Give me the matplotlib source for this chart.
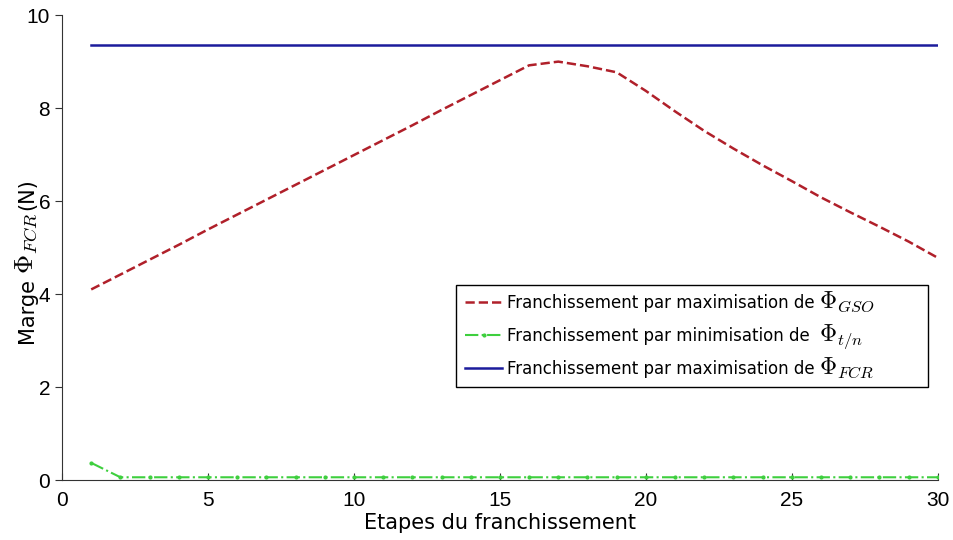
import numpy as np
import matplotlib
matplotlib.use('Agg')
import matplotlib.pyplot as plt
from matplotlib.transforms import IdentityTransform

plt.rcParams['mathtext.fontset'] = 'cm'

# etapes du franchissement
etapes = np.arange(1, 31)

# marge Phi_FCR pour chaque strategie
marge_gso = [4.10, 4.42, 4.74, 5.06, 5.39, 5.71, 6.03, 6.35, 6.67, 6.99,
             7.31, 7.63, 7.96, 8.28, 8.60, 8.92, 9.00, 8.90, 8.77, 8.37,
             7.93, 7.51, 7.13, 6.77, 6.43, 6.08, 5.76, 5.45, 5.13, 4.78]
marge_tn = [0.37] + [0.06] * 29
marge_fcr = [9.35] * 30

labels = ['Franchissement par maximisation de',
          'Franchissement par minimisation de ',
          'Franchissement par maximisation de']
symboles = [r'$\Phi_{GSO}$', r'$\Phi_{t/n}$', r'$\Phi_{FCR}$']

fig = plt.figure(figsize=(9.54, 5.4), dpi=100)
ax = fig.add_axes([0.065, 0.111, 0.918, 0.861])

ax.plot(etapes, marge_gso, '--', color='#b0202a', lw=1.8, label=labels[0])
ax.plot(etapes, marge_tn, '-.', color='#3ecf3e', lw=1.5, marker='.', ms=4,
        label=labels[1])
ax.plot(etapes, marge_fcr, '-', color='#1c1c9c', lw=1.8, label=labels[2])

ax.set_xlim(0, 30)
ax.set_ylim(0, 10)
ax.set_xticks([0, 5, 10, 15, 20, 25, 30])
ax.set_yticks([0, 2, 4, 6, 8, 10])
for s in ['top', 'right']:
    ax.spines[s].set_visible(False)
for s in ['left', 'bottom']:
    ax.spines[s].set_color('#333333')
ax.tick_params(axis='x', direction='in', length=5, labelsize=15, pad=8,
               color='#333333')
ax.tick_params(axis='y', direction='out', length=5, labelsize=15,
               color='#333333')
for t in ax.get_xticklabels() + ax.get_yticklabels():
    t.set_family('Liberation Sans')

ax.set_xlabel('Etapes du franchissement', fontsize=15, labelpad=2)

leg = ax.legend(loc='lower left', bbox_to_anchor=(0.45, 0.2, 0.539, 0.224),
                mode='expand', borderaxespad=0, fontsize=12, fancybox=False,
                framealpha=1, edgecolor='black', handlelength=2.2,
                handletextpad=0.3, borderpad=0.55, labelspacing=0.9)
leg.get_frame().set_linewidth(1.0)

fig.canvas.draw()
r = fig.canvas.get_renderer()

# symboles Phi en plus grand a la suite du texte de la legende
for t, sym in zip(leg.texts, symboles):
    bb = t.get_window_extent(r)
    xb, yb = t.get_transform().transform(t.get_position())
    fig.text(bb.x1 + 4, yb, sym, fontsize=17, va='baseline', ha='left',
             transform=IdentityTransform(), zorder=10)

# label de l'axe y : Marge Phi_FCR (N)
xb, yb = 33, 540 - 343
morceaux = [('Marge', 15, 0), (r'$\Phi_{FCR}$', 19, 4), ('(N)', 15, 3)]
for txt, fs, gap in morceaux:
    yb += gap
    tt = fig.text(xb, yb, txt, fontsize=fs, rotation=90, rotation_mode='anchor',
                  ha='left', va='baseline', transform=IdentityTransform())
    yb = tt.get_window_extent(r).y1

plt.savefig('out.png', dpi=100)
